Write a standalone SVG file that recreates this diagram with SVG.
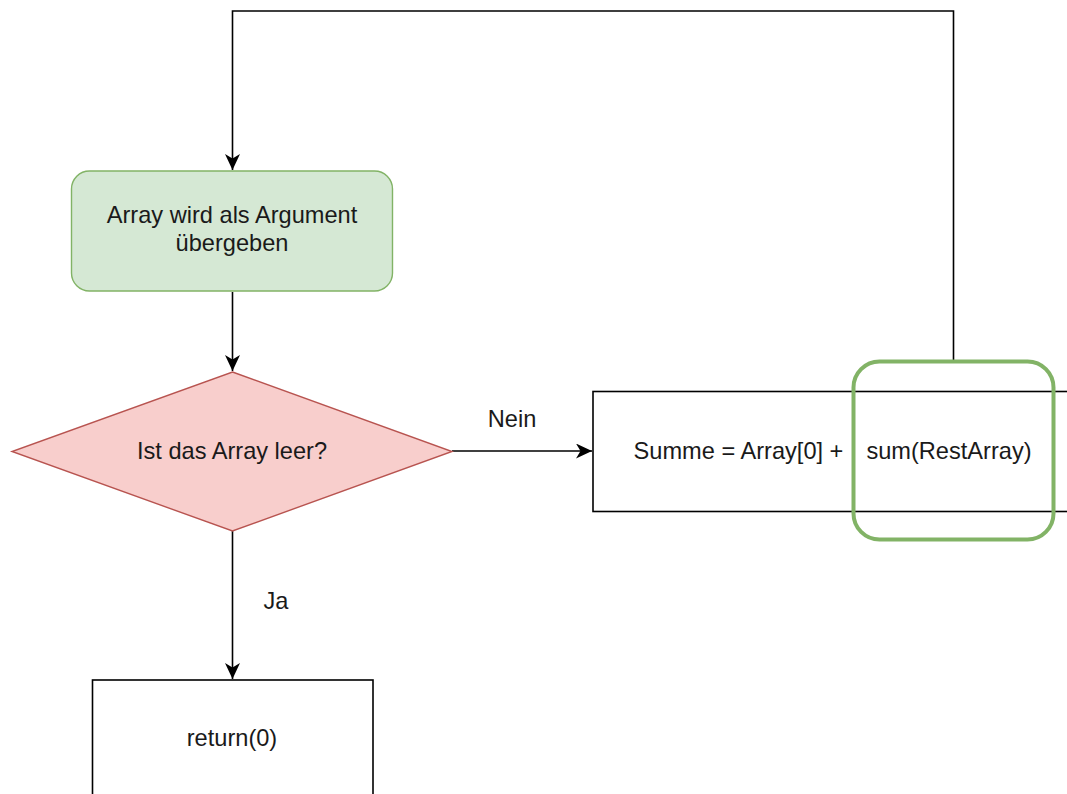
<svg xmlns="http://www.w3.org/2000/svg" width="1067" height="794" viewBox="0 0 1067 794">
  <style>
    text { font-family: "Liberation Sans", Arial, Helvetica, sans-serif; font-size: 23.6px; fill: #1a1a1a; text-anchor: middle; }
    .edge { fill: none; stroke: #000; stroke-width: 1.6; }
    .box { fill: #fff; stroke: #000; stroke-width: 1.6; }
  </style>
  <defs>
    <marker id="arrow" markerUnits="userSpaceOnUse" viewBox="0 0 17 15" markerWidth="17" markerHeight="15" refX="16" refY="7.5" orient="auto">
      <path d="M0,0 L16,7.5 L0,15 L4.5,7.5 Z" fill="#000"/>
    </marker>
  </defs>
  <rect width="1067" height="794" fill="#fff"/>

  <g id="connectors">
    <polyline class="edge" points="953.5,361 953.5,11 232.5,11 232.5,170" marker-end="url(#arrow)"/>
    <line class="edge" x1="232.5" y1="292" x2="232.5" y2="371" marker-end="url(#arrow)"/>
    <line class="edge" x1="452" y1="451" x2="592" y2="451" marker-end="url(#arrow)"/>
    <line class="edge" x1="232.5" y1="531" x2="232.5" y2="679" marker-end="url(#arrow)"/>
    <text x="512" y="427">Nein</text>
    <text x="276" y="609">Ja</text>
  </g>

  <g id="start">
    <rect x="71.5" y="171" width="321" height="120" rx="18" fill="#d5e8d4" stroke="#82b366" stroke-width="1.4"/>
    <text x="232" y="223">Array wird als Argument</text>
    <text x="232" y="251">übergeben</text>
  </g>

  <g id="decision">
    <polygon points="232.5,372 452,451.5 232.5,531 12,451.5" fill="#f8cecc" stroke="#b85450" stroke-width="1.4"/>
    <text x="232" y="459">Ist das Array leer?</text>
  </g>

  <g id="sum">
    <rect class="box" x="593" y="391.5" width="500" height="120"/>
    <text x="738.5" y="459">Summe = Array[0] +</text>
    <text x="949" y="459">sum(RestArray)</text>
  </g>

  <g id="highlight">
    <rect x="853.5" y="361.5" width="200" height="178" rx="26" fill="none" stroke="#82b366" stroke-width="4"/>
  </g>

  <g id="return">
    <rect class="box" x="92.5" y="680" width="280.5" height="140"/>
    <text x="232" y="746">return(0)</text>
  </g>
</svg>
